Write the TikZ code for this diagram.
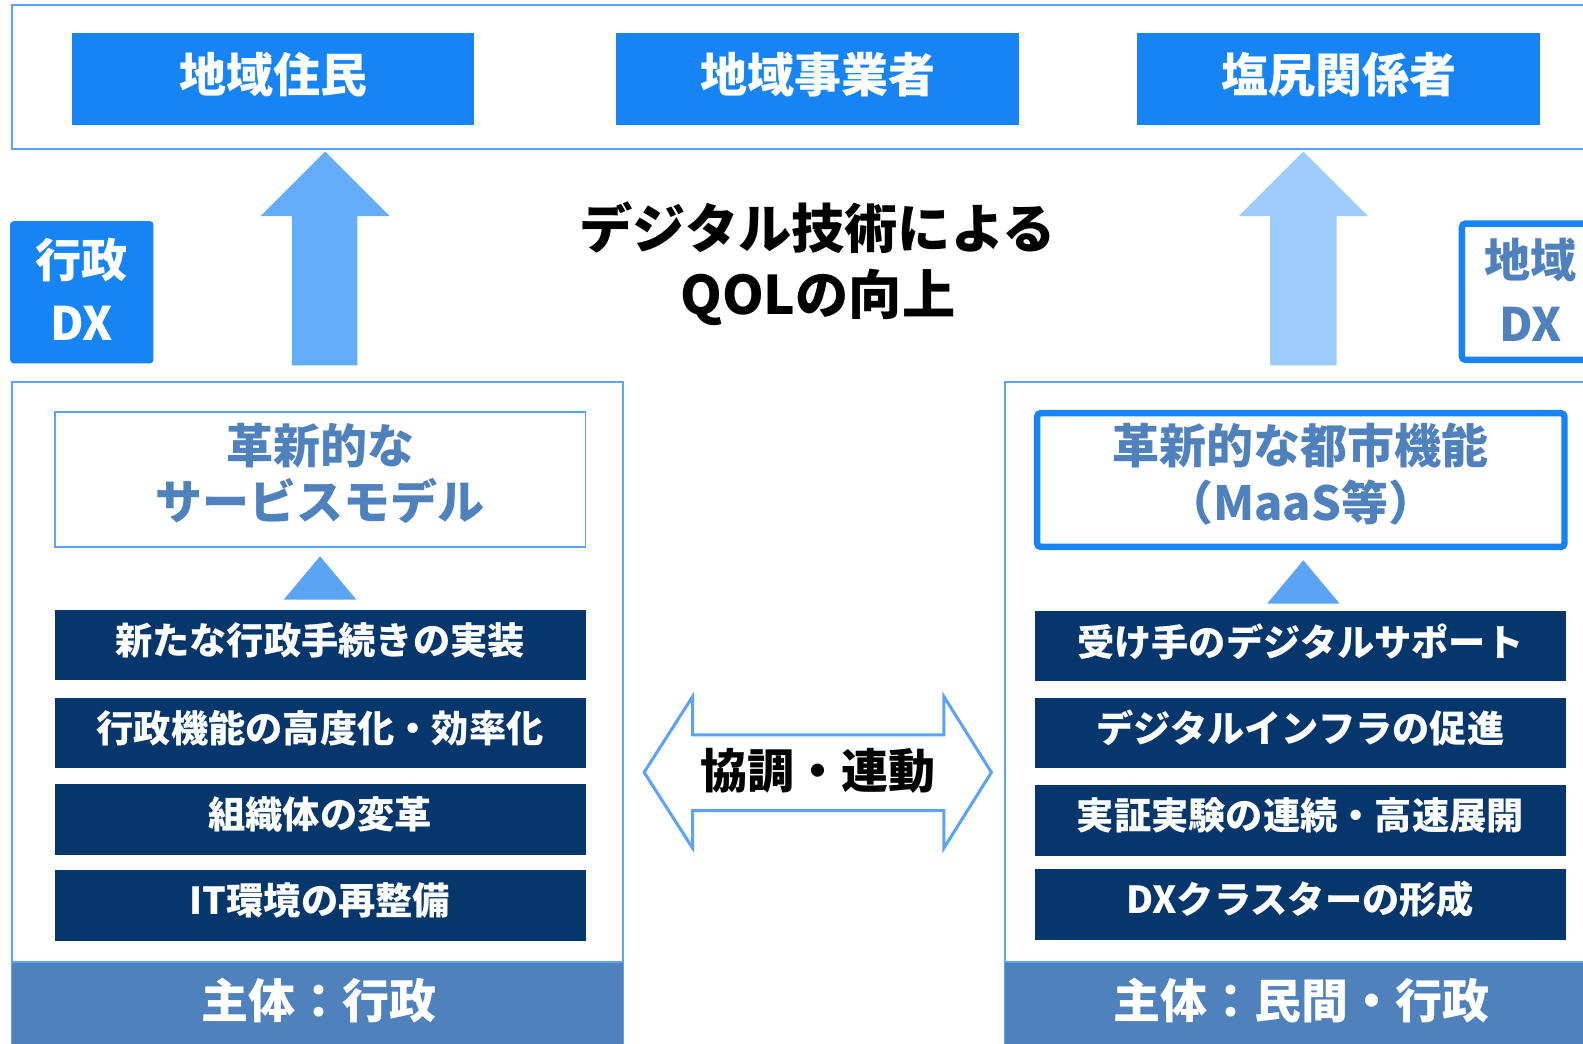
\documentclass[tikz,border=0pt]{standalone}
\usepackage{fontspec}
\setmainfont{Noto Sans CJK JP}
\definecolor{cblue}{RGB}{23,132,245}
\definecolor{cline}{RGB}{91,163,245}
\definecolor{carrowA}{RGB}{100,173,250}
\definecolor{carrowB}{RGB}{157,203,250}
\definecolor{cnavy}{RGB}{5,55,109}
\definecolor{csteel}{RGB}{79,129,189}
\tikzset{
  topbox/.style={fill=cblue,minimum width=7.98cm,minimum height=1.82cm,inner sep=0pt},
  toptxt/.style={text=white,font=\bfseries\fontsize{26.5}{30}\selectfont,inner sep=0pt},
  navybox/.style={fill=cnavy,minimum width=10.52cm,minimum height=1.4cm,inner sep=0pt},
  navytxt/.style={text=white,font=\bfseries\fontsize{21}{25}\selectfont,inner sep=0pt},
  bartxt/.style={text=white,font=\bfseries\fontsize{26.5}{30}\selectfont,inner sep=0pt},
  bigtxt/.style={align=center,inner sep=0pt,font=\bfseries\fontsize{26.5}{32}\selectfont},
  frame/.style={draw=cline,line width=1.1pt},
  tri/.style={fill=cline,draw=none}
}
\begin{document}
\begin{tikzpicture}[x=0.02cm,y=-0.02cm]
\useasboundingbox (0,0) rectangle (1568,1034);
\clip (0,0) rectangle (1568,1034);
% top frame
\draw[frame] (12,5) rectangle (1620,148);
\node[topbox] (res) at (270.5,78.5) {};
\node[toptxt] (res-t) at (270.5,74) {地域住民};
\node[topbox] (biz) at (810,78.5) {};
\node[toptxt] (biz-t) at (810,74) {地域事業者};
\node[topbox] (rel) at (1326,78.5) {};
\node[toptxt] (rel-t) at (1326,74) {塩尻関係者};
% up arrows
\fill[carrowA] (289,362)--(289,214)--(258,214)--(322,150)--(386,214)--(354,214)--(354,362)--cycle;
\fill[carrowB] (1258,362)--(1258,214)--(1227,214)--(1291,150)--(1355,214)--(1324,214)--(1324,362)--cycle;
% DX labels
\node[fill=cblue,rounded corners=2pt,minimum width=2.84cm,minimum height=2.82cm,inner sep=0pt] (gdx) at (81,289.5) {};
\node[text=white,align=center,inner sep=0pt,font=\bfseries\fontsize{26}{36}\selectfont] (gdx-t) at (81,286.5) {行政\\DX};
\node[draw=cblue,line width=3.6pt,rounded corners=2pt,fill=white,minimum width=2.72cm,minimum height=2.7cm,inner sep=0pt] (rdx) at (1516,289) {};
\node[text=csteel,align=center,inner sep=0pt,font=\bfseries\fontsize{26}{36}\selectfont] (rdx-t) at (1516,287) {地域\\DX};
% center text
\node[align=center,font=\bfseries\fontsize{30}{37}\selectfont,inner sep=0pt] (qol) at (810,261) {デジタル技術による\\QOLの向上};
% left panel
\draw[frame] (12,378) rectangle (617,1045);
\fill[csteel] (12,953) rectangle (617,1045);
\draw[frame] (12,953) -- (617,953);
\node[bartxt] (lbar) at (316,991) {主体：行政};
\node[draw=cline,line width=1.1pt,minimum width=10.52cm,minimum height=2.68cm,inner sep=0pt] (lsvc) at (317,475) {};
\node[bigtxt,text=csteel] (lsvc-t) at (317,469) {革新的な\\サービスモデル};
\fill[tri] (281,594)--(317,551)--(353,594)--cycle;
\node[navybox] (l1) at (317,639) {};
\node[navytxt] (l1-t) at (317,634) {新たな行政手続きの実装};
\node[navybox] (l2) at (317,726) {};
\node[navytxt] (l2-t) at (317,721) {行政機能の高度化・効率化};
\node[navybox] (l3) at (317,812) {};
\node[navytxt] (l3-t) at (317,807) {組織体の変革};
\node[navybox] (l4) at (317,897) {};
\node[navytxt] (l4-t) at (317,892) {IT環境の再整備};
% right panel
\draw[frame] (995,378) rectangle (1620,1045);
\fill[csteel] (995,953) rectangle (1620,1045);
\draw[frame] (995,953) -- (1620,953);
\node[bartxt] (rbar) at (1289,991) {主体：民間・行政};
\node[draw=cblue,line width=3.6pt,rounded corners=2pt,minimum width=10.45cm,minimum height=2.65cm,inner sep=0pt] (rcity) at (1288.5,475.5) {};
\node[bigtxt,text=csteel] (rcity-t) at (1288.5,469.5) {革新的な都市機能\\（MaaS等）};
\fill[tri] (1255,598)--(1291,555)--(1327,598)--cycle;
\node[navybox] (r1) at (1288,640) {};
\node[navytxt] (r1-t) at (1288,636) {受け手のデジタルサポート};
\node[navybox] (r2) at (1288,726) {};
\node[navytxt] (r2-t) at (1288,721) {デジタルインフラの促進};
\node[navybox] (r3) at (1288,813) {};
\node[navytxt] (r3-t) at (1288,808) {実証実験の連続・高速展開};
\node[navybox] (r4) at (1288,896) {};
\node[navytxt] (r4-t) at (1288,891) {DXクラスターの形成};
% double arrow
\draw[draw=cline,line width=1.7pt,fill=white,line join=miter] (638,765)--(686,690)--(686,728)--(935,728)--(935,690)--(982,765)--(935,840)--(935,803)--(686,803)--(686,840)--cycle;
\node[font=\bfseries\fontsize{26.5}{30}\selectfont,inner sep=0pt] (coop) at (810,764) {協調・連動};
\end{tikzpicture}
\end{document}
